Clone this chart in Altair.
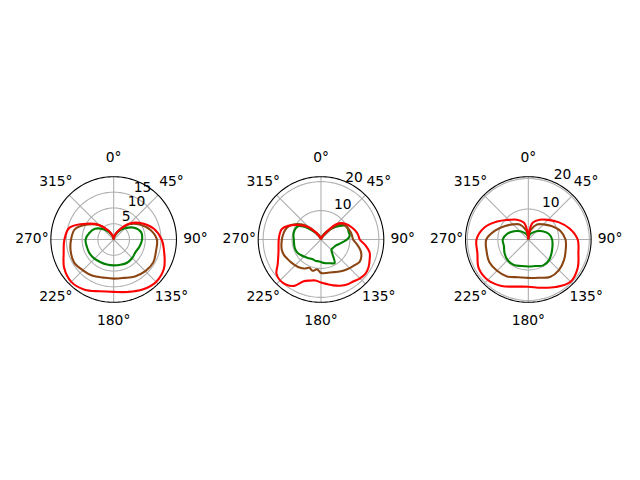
import altair as alt
import pandas as pd

# ---------------- data ----------------
ANG_A = [0, 5, 10, 15, 30, 45, 60, 75, 90, 105, 120, 135, 150, 165, 180,
         195, 210, 225, 240, 255, 270, 285, 300, 315, 330, 345, 350, 355, 360]

P1_GREEN = [0, 0.3, 0.7, 1.2, 3.0, 5.0, 7.5, 9.0, 9.0, 8.5, 8.0, 8.3, 8.5, 8.3, 8.2,
            8.2, 8.3, 8.6, 8.8, 8.8, 8.9, 8.0, 6.8, 4.6, 2.6, 1.0, 0.7, 0.3, 0]
P1_BROWN = [0, 0.4, 0.9, 1.4, 3.3, 6.8, 9.5, 12.0, 13.7, 13.9, 14.5, 14.2, 13.5, 12.6, 12.4,
            12.5, 13.3, 13.8, 14.5, 14.1, 13.5, 12.7, 9.5, 6.4, 3.1, 1.2, 0.9, 0.4, 0]
P1_RED = [0, 0.4, 0.9, 1.5, 3.5, 7.2, 10.3, 13.2, 15.2, 16.6, 18.4, 19.0, 18.3, 17.2, 16.6,
          17.0, 18.4, 19.0, 18.1, 16.4, 15.6, 14.5, 10.0, 6.5, 3.2, 1.3, 0.9, 0.4, 0]

ANG_B = [i * 7.5 for i in range(49)]

P2_GREEN = [0, 0.3, 0.7, 1.4, 2.4, 3.8, 5.5, 7.5, 9.6, 10.0, 9.9, 10.0, 9.0, 7.4, 6.3, 5.5,
            5.2, 5.0, 5.1, 6.6, 9.4, 8.9, 8.5, 8.2, 7.8, 7.6, 7.6, 7.4, 7.6, 7.9, 8.3, 8.8,
            9.3, 9.5, 9.5, 9.4, 9.4, 9.6, 9.7, 9.6, 9.2, 7.2, 4.5, 3.0, 2.0, 1.2, 0.7, 0.3, 0]
P2_BROWN = [0, 0.2, 0.5, 0.9, 1.6, 3.0, 6.0, 8.8, 9.6, 10.1, 10.5, 10.8, 11.1, 12.5, 14.1, 15.1,
            15.4, 14.6, 14.0, 13.4, 12.8, 12.2, 11.8, 11.7, 11.6, 10.4, 11.2, 10.6, 11.6, 12.2, 12.6, 13.0,
            13.4, 13.9, 14.0, 13.8, 13.5, 13.2, 12.8, 12.0, 10.6, 8.6, 6.0, 3.5, 1.8, 0.8, 0.4, 0.1, 0]
P2_RED = [0, 0.2, 0.5, 1.0, 1.8, 3.8, 7.5, 9.3, 10.4, 11.3, 12.2, 12.9, 13.4, 15.5, 17.4, 18.2,
          19.0, 19.4, 19.0, 18.3, 18.0, 17.3, 16.4, 15.5, 14.9, 14.3, 14.7, 15.6, 18.5, 19.7, 20.0, 19.4,
          17.3, 16.0, 15.2, 14.8, 14.6, 14.4, 14.0, 12.3, 10.0, 8.0, 6.0, 3.3, 1.8, 0.9, 0.4, 0.1, 0]

P3_GREEN = [0, 0.5, 1.0, 1.6, 2.5, 3.8, 5.4, 7.0, 7.8, 8.2, 8.8, 9.6, 9.8, 9.0, 8.85,
            9.0, 9.6, 9.6, 9.0, 8.3, 8.4, 7.2, 5.4, 3.8, 2.5, 1.6, 1.0, 0.5, 0]
P3_BROWN = [0, 1.0, 2.5, 3.4, 5.7, 7.0, 8.8, 10.9, 12.2, 12.7, 13.5, 14.2, 14.2, 13.0, 12.6,
            12.8, 14.0, 14.5, 14.8, 14.2, 13.8, 11.3, 8.8, 7.0, 5.7, 3.4, 2.5, 1.0, 0]
P3_RED = [0, 1.5, 4.3, 5.8, 7.5, 9.1, 11.4, 14.0, 16.2, 17.0, 18.7, 19.6, 18.0, 16.4, 15.5,
          16.0, 17.6, 18.8, 18.8, 17.3, 17.0, 15.0, 11.8, 9.1, 7.5, 5.8, 4.3, 1.5, 0]

RMAX = [19.9, 21.7, 20.6]
RTICKS = [[5, 10, 15], [10, 20], [10, 20]]
ANGLE_LABELS = [0, 45, 90, 135, 180, 225, 270, 315]

SERIES_NAMES = ["green", "brown", "red"]
SERIES_COLORS = ["#008000", "#8b4513", "#ff0000"]

# ---------------- layout constants ----------------
PANEL_W = 208
PANEL_H = 463
RADIUS_PX = 63.0
LABEL_PX = 82.0
FONT = "DejaVu Sans"
FS = 13.9

XY = "datum.r * sin(datum.theta * PI / 180)"
YY = "datum.r * cos(datum.theta * PI / 180)"


def panel(angles, series, rmax, ticks):
    u = RADIUS_PX / rmax
    hx = (PANEL_W / 2) / u
    hy = (PANEL_H / 2) / u
    xs = alt.Scale(domain=[-hx, hx], nice=False, zero=False)
    ys = alt.Scale(domain=[-hy, hy], nice=False, zero=False)

    def xenc(f="x"):
        return alt.X(f"{f}:Q", scale=xs, axis=None)

    def yenc(f="y"):
        return alt.Y(f"{f}:Q", scale=ys, axis=None)

    # data curves
    rows = []
    for name, vals in series:
        for i, (a, r) in enumerate(zip(angles, vals)):
            rows.append({"series": name, "i": i, "theta": a, "r": r})
    curves = alt.Chart(pd.DataFrame(rows)).transform_calculate(
        x=XY, y=YY
    ).mark_line(strokeWidth=2.1, interpolate="catmull-rom", clip=False).encode(
        x=xenc(), y=yenc(),
        color=alt.Color("series:N", scale=alt.Scale(domain=SERIES_NAMES, range=SERIES_COLORS), legend=None),
        detail="series:N",
        order=alt.Order("i:Q"),
    )

    # grid rings
    ring_rows = []
    for t in ticks:
        for k in range(0, 181):
            ring_rows.append({"ring": t, "i": k, "theta": k * 2, "r": t})
    rings = alt.Chart(pd.DataFrame(ring_rows)).transform_calculate(
        x=XY, y=YY
    ).mark_line(stroke="#b0b0b0", strokeWidth=1.1).encode(
        x=xenc(), y=yenc(), detail="ring:N", order=alt.Order("i:Q")
    )

    # spokes
    spoke_df = pd.DataFrame({"theta": ANGLE_LABELS, "r": [rmax] * len(ANGLE_LABELS)})
    spokes = alt.Chart(spoke_df).transform_calculate(
        x=XY, y=YY, x0="0", y0="0"
    ).mark_rule(stroke="#b0b0b0", strokeWidth=1.1).encode(
        x=xenc("x0"), y=yenc("y0"), x2="x:Q", y2="y:Q"
    )

    # outer circle (spine)
    outer_rows = [{"i": k, "theta": k * 2, "r": rmax} for k in range(0, 181)]
    outer = alt.Chart(pd.DataFrame(outer_rows)).transform_calculate(
        x=XY, y=YY
    ).mark_line(stroke="black", strokeWidth=1.1).encode(
        x=xenc(), y=yenc(), order=alt.Order("i:Q")
    )

    # angle labels
    rl = LABEL_PX / u
    ang_df = pd.DataFrame({
        "theta": ANGLE_LABELS,
        "r": [rl] * len(ANGLE_LABELS),
        "label": [f"{a}°" for a in ANGLE_LABELS],
    })
    ang_text = alt.Chart(ang_df).transform_calculate(
        x=XY, y=YY
    ).mark_text(font=FONT, fontSize=FS, color="black", align="center", baseline="middle").encode(
        x=xenc(), y=yenc(), text="label:N"
    )

    # radial labels
    rt_df = pd.DataFrame({
        "theta": [22.5] * len(ticks),
        "r": ticks,
        "label": [str(t) for t in ticks],
    })
    r_text = alt.Chart(rt_df).transform_calculate(
        x=XY, y=YY
    ).mark_text(font=FONT, fontSize=FS, color="black", align="left", baseline="bottom", dx=2, dy=-1).encode(
        x=xenc(), y=yenc(), text="label:N"
    )

    return alt.layer(rings, spokes, curves, outer, ang_text, r_text).properties(
        width=PANEL_W, height=PANEL_H
    )


p1 = panel(ANG_A, list(zip(SERIES_NAMES, [P1_GREEN, P1_BROWN, P1_RED])), RMAX[0], RTICKS[0])
p2 = panel(ANG_B, list(zip(SERIES_NAMES, [P2_GREEN, P2_BROWN, P2_RED])), RMAX[1], RTICKS[1])
p3 = panel(ANG_A, list(zip(SERIES_NAMES, [P3_GREEN, P3_BROWN, P3_RED])), RMAX[2], RTICKS[2])

chart = alt.hconcat(p1, p2, p3, spacing=0).properties(
    padding={"left": 2, "top": 0, "right": 0, "bottom": 0},
    background="white",
).configure_view(stroke=None)

chart.save("out.html", embed_options={"renderer": "svg", "actions": False})
